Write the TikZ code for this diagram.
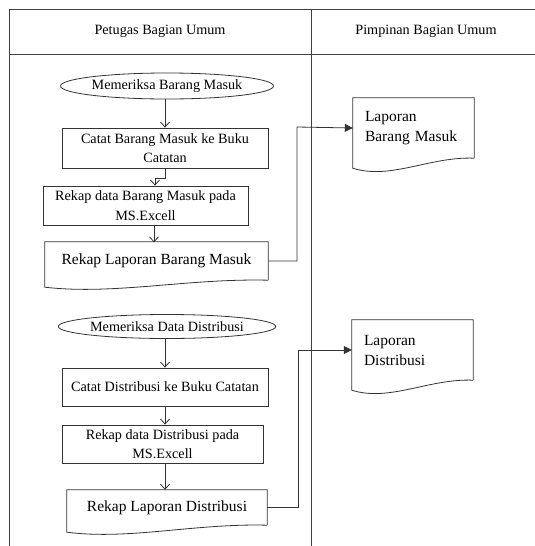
\documentclass[tikz,border=0pt]{standalone}
\usepackage{fontspec}
\setmainfont{Liberation Serif}
\usetikzlibrary{arrows.meta,calc,shapes.geometric}
\tikzset{
  frameline/.style={draw=black!75,line width=0.9pt},
  lineclr/.style={draw=black!80,line width=0.8pt},
  procbox/.style={lineclr,rectangle,align=center,inner sep=1pt,
    font=\fontsize{14.2}{19.5}\selectfont},
  startell/.style={lineclr,ellipse,inner sep=0pt,
    font=\fontsize{14.2}{17}\selectfont},
  docnode/.style={rectangle,draw=none,inner sep=0pt,align=center,
    font=\fontsize{15.5}{19}\selectfont},
  reportnode/.style={rectangle,draw=none,inner xsep=12pt,inner ysep=0pt,
    text width=97pt,align=left,font=\fontsize{15.5}{20}\selectfont},
  openarr/.style={lineclr,-{Straight Barb[length=5pt,width=9pt]}},
  fillarr/.style={lineclr,-{Triangle[length=8pt,width=8pt]}},
  headtext/.style={font=\fontsize{14.2}{17}\selectfont,inner sep=0pt}
}
\newcommand\docoutline[4]{%
  \draw[lineclr] (#1.south east) -- (#1.north east) -- (#1.north west)
    -- ($(#1.south west)+(0,#2)$)
    .. controls ($(#1.south west)!0.31!(#1.south east)+(0,#3)$)
    and ($(#1.south west)!0.64!(#1.south east)+(0,#4)$) .. (#1.south east);}
\begin{document}
\begin{tikzpicture}[x=1pt,y=-1pt]
\useasboundingbox (0,0) rectangle (535,546);
% swimlane frame
\draw[frameline] (535,9) -- (9,9) -- (9,546);
\draw[frameline] (9,54) -- (535,54);
\draw[frameline] (311,9) -- (311,546);
\node[headtext] (h1) at (160,31) {Petugas Bagian Umum};
\node[headtext] (h2) at (426,31) {Pimpinan Bagian Umum};
% section 1
\node[startell,minimum width=210pt,minimum height=26pt] (e1) at (167,86) {Memeriksa Barang Masuk};
\node[procbox,minimum width=206pt,minimum height=40pt] (b1) at (165,148) {Catat Barang Masuk ke Buku\\Catatan};
\node[procbox,minimum width=205pt,minimum height=39pt] (b2) at (145.5,205.5) {Rekap data Barang Masuk pada\\MS.Excell};
\node[docnode,minimum width=223pt,minimum height=38pt] (b3) at (156.5,261) {Rekap Laporan Barang Masuk};
\docoutline{b3}{7}{15}{-2}
\node[reportnode,minimum height=60pt] (d1) at (413.5,128) {Laporan\\Barang Masuk};
\docoutline{d1}{10}{22}{-2}
\draw[openarr] (e1.south -| b1.north) -- (b1.north);
\coordinate (j1) at ($(b2.north)+(9.5,0)$);
\draw[openarr] (b1.south) -- ++(0,10) -| (j1);
\draw[openarr] ($(b2.south)+(8.5,0)$) -- ($(b2.south)+(8.5,17)$);
\draw[fillarr] (b3.east) -| (297,127) -- (d1.west);
% section 2
\node[startell,minimum width=210pt,minimum height=24pt] (e2) at (167,326.5) {Memeriksa Data Distribusi};
\node[procbox,minimum width=206pt,minimum height=38pt] (b4) at (165,387) {Catat Distribusi ke Buku Catatan};
\node[procbox,minimum width=201pt,minimum height=38pt] (b5) at (162.5,444) {Rekap data Distribusi pada\\MS.Excell};
\node[docnode,minimum width=200pt,minimum height=35pt] (b6) at (167,507.5) {Rekap Laporan Distribusi};
\docoutline{b6}{7}{15}{-2}
\node[reportnode,minimum height=60pt] (d2) at (412.5,350) {Laporan\\Distribusi};
\docoutline{d2}{10}{22}{-2}
\coordinate (c2) at (165,0);
\draw[openarr] (e2.south -| c2) -- (b4.north -| c2);
\draw[openarr] (b4.south -| c2) -- (b5.north -| c2);
\draw[openarr] (b5.south -| c2) -- (b6.north -| c2);
\draw[fillarr] (b6.east) -| (298,350) -- (d2.west);
\end{tikzpicture}
\end{document}
